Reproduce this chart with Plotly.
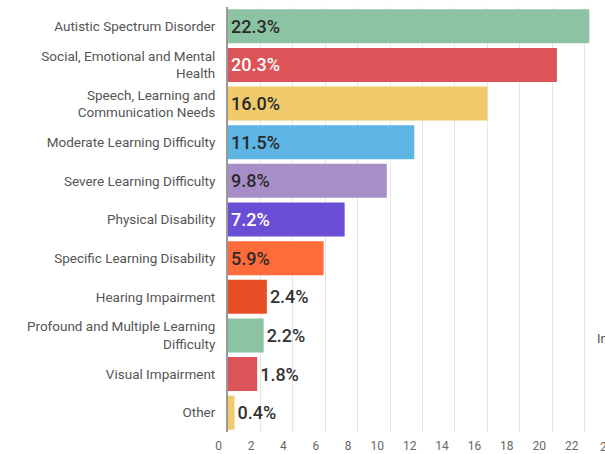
import plotly.graph_objects as go

categories = [
    "Autistic Spectrum Disorder",
    "Social, Emotional and Mental<br>Health",
    "Speech, Learning and<br>Communication Needs",
    "Moderate Learning Difficulty",
    "Severe Learning Difficulty",
    "Physical Disability",
    "Specific Learning Disability",
    "Hearing Impairment",
    "Profound and Multiple Learning<br>Difficulty",
    "Visual Impairment",
    "Other",
]
values = [22.3, 20.3, 16.0, 11.5, 9.8, 7.2, 5.9, 2.4, 2.2, 1.8, 0.4]
labels = ["22.3%", "20.3%", "16.0%", "11.5%", "9.8%", "7.2%", "5.9%", "2.4%", "2.2%", "1.8%", "0.4%"]
colors = ["#8cc3a3", "#dc5358", "#efc96a", "#5db5e4", "#a88ec9", "#6a4fd6",
          "#ff6b3a", "#e64f26", "#8cc3a3", "#dc5358", "#efc96a"]
text_colors = ["#2a2a2a", "#ffffff", "#2a2a2a", "#2a2a2a", "#2a2a2a", "#ffffff",
               "#2a2a2a", "#333333", "#333333", "#333333", "#333333"]
positions = ["inside"] * 7 + ["outside"] * 4
x_ticks = [0, 2, 4, 6, 8, 10, 12, 14, 16, 18, 20, 22]

xmax = 23.27

fig = go.Figure(go.Bar(
    x=values,
    y=categories,
    orientation="h",
    marker=dict(color=colors, line=dict(width=0)),
    text=labels,
    textposition=positions,
    insidetextanchor="start",
    textfont=dict(family="Roboto", size=18, color=text_colors, weight=500),
    cliponaxis=False,
    hoverinfo="skip",
))

fig.update_layout(
    width=605,
    height=454,
    margin=dict(l=228, r=0, t=7, b=22),
    paper_bgcolor="white",
    plot_bgcolor="white",
    bargap=0.12,
    showlegend=False,
    font=dict(family="Roboto", color="#555555"),
    uniformtext=dict(minsize=18, mode="show"),
)
fig.update_xaxes(
    range=[0, xmax],
    tickvals=x_ticks,
    ticktext=[str(t) for t in x_ticks],
    showgrid=True,
    gridcolor="#e6e6e6",
    gridwidth=1,
    zeroline=False,
    showline=False,
    ticklabelposition="outside left",
    ticklabelshift=-6,
    ticklabelstandoff=5,
    tickfont=dict(size=12, color="#666666"),
    ticks="",
)
fig.update_yaxes(
    autorange="reversed",
    showline=True,
    linecolor="#999999",
    linewidth=2,
    ticks="",
    tickfont=dict(size=13.5, color="#555555"),
    ticklabelstandoff=8,
)

# partially visible tick label beyond the visible range, and clipped neighbour text
fig.add_annotation(x=24 / xmax, y=0, xref="paper", yref="paper", yanchor="top",
                   xanchor="right", xshift=-1, yshift=-6, text="24", showarrow=False,
                   font=dict(size=12, color="#666666"))
fig.add_annotation(x=1.0, y=0.22, xref="paper", yref="paper", xanchor="left",
                   xshift=-10, yshift=-9, text="In", showarrow=False,
                   font=dict(size=13, color="#555555"))

fig.write_html("out.html", config={"displayModeBar": False},
               post_script="document.body.style.margin='0';")
